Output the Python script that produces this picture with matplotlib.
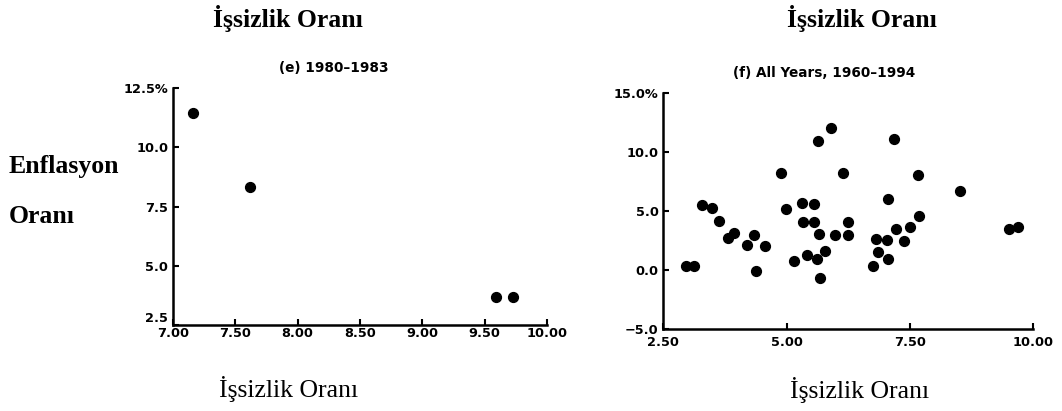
import matplotlib.pyplot as plt

# Panel (e): 1980-1983
issizlik_e = [7.16, 7.62, 9.59, 9.73]
enflasyon_e = [11.44, 8.34, 3.67, 3.67]

# Panel (f): all years 1960-1994
issizlik_f = [2.96, 3.13, 3.28, 3.49, 3.63, 3.82, 3.93, 4.19, 4.33, 4.38, 4.57,
              4.89, 4.98, 5.15, 5.31, 5.56, 5.33, 5.56, 5.42, 5.61, 5.77, 5.66,
              5.68, 5.64, 5.90, 5.98, 6.15, 6.24, 6.24, 7.17, 7.67, 7.05, 8.51,
              7.69, 7.51, 7.22, 7.39, 6.81, 7.03, 6.86, 7.05, 6.75, 9.51, 9.70]
enflasyon_f = [0.38, 0.38, 5.51, 5.23, 4.15, 2.69, 3.11, 2.13, 2.97, -0.05, 2.04,
               8.19, 5.17, 0.75, 5.65, 5.57, 4.07, 4.09, 1.28, 0.92, 1.62, 3.06,
               -0.69, 10.89, 11.99, 2.97, 8.21, 4.04, 2.97, 11.09, 8.07, 6.01, 6.66,
               4.55, 3.67, 3.50, 2.49, 2.61, 2.55, 1.51, 0.94, 0.35, 3.50, 3.62]

xt_e = [7.0, 7.5, 8.0, 8.5, 9.0, 9.5, 10.0]
xl_e = ['7.00', '7.50', '8.00', '8.50', '9.00', '9.50', '10.00']
yt_e = [2.5, 5.0, 7.5, 10.0, 12.5]
yl_e = ['2.5', '5.0', '7.5', '10.0', '12.5%']

xt_f = [2.5, 5.0, 7.5, 10.0]
xl_f = ['2.50', '5.00', '7.50', '10.00']
yt_f = [-5.0, 0.0, 5.0, 10.0, 15.0]
yl_f = ['\u22125.0', '0.0', '5.0', '10.0', '15.0%']

serif = 'Liberation Serif'
sans = 'DejaVu Sans'

fig = plt.figure(figsize=(10.62, 4.11), dpi=100)
ax1 = fig.add_axes([0.1629, 0.2092, 0.3522, 0.5759])
ax2 = fig.add_axes([0.6246, 0.1988, 0.3481, 0.5757])


def stil(ax, xt, xl, yt, yl, xpad):
    ax.set_xlim(xt[0], xt[-1])
    ax.set_ylim(yt[0], yt[-1])
    ax.set_xticks(xt)
    ax.set_xticklabels(xl)
    ax.set_yticks(yt)
    ax.set_yticklabels(yl)
    for s in ['top', 'right']:
        ax.spines[s].set_visible(False)
    for s in ['left', 'bottom']:
        ax.spines[s].set_linewidth(1.8)
    ax.tick_params(direction='in', length=4.5, width=1.5)
    ax.tick_params(axis='x', pad=xpad)
    ax.tick_params(axis='y', pad=3.5)
    for lbl in ax.get_xticklabels() + ax.get_yticklabels():
        lbl.set_fontfamily(sans)
        lbl.set_fontweight('bold')
        lbl.set_fontsize(9.3)


ax1.scatter(issizlik_e, enflasyon_e, s=50, color='black', clip_on=False)
stil(ax1, xt_e, xl_e, yt_e, yl_e, 1.2)
# en alttaki etiket köşede biraz yukarıda durur
ax1.get_yticklabels()[0].set_va('bottom')

ax2.scatter(issizlik_f, enflasyon_f, s=50, color='black', clip_on=False)
stil(ax2, xt_f, xl_f, yt_f, yl_f, 5.0)

fig.text(0.3141, 0.834, '(e) 1980\u20131983', family=sans, fontweight='bold',
         fontsize=9.8, ha='center', va='center')
fig.text(0.7759, 0.823, '(f) All Years, 1960\u20131994', family=sans,
         fontweight='bold', fontsize=9.8, ha='center', va='center')

# eksen başlıkları
fig.text(0.2712, 0.934, 'İşsizlik Oranı', family=serif, fontweight='bold',
         fontsize=18.5, ha='center', va='baseline')
fig.text(0.812, 0.934, 'İşsizlik Oranı', family=serif, fontweight='bold',
         fontsize=18.5, ha='center', va='baseline')
fig.text(0.2721, 0.034, 'İşsizlik Oranı', family=serif,
         fontsize=18.5, ha='center', va='baseline')
fig.text(0.8098, 0.0316, 'İşsizlik Oranı', family=serif,
         fontsize=18.5, ha='center', va='baseline')
fig.text(0.0085, 0.579, 'Enflasyon', family=serif, fontweight='bold',
         fontsize=18.5, ha='left', va='baseline')
fig.text(0.0085, 0.4574, 'Oranı', family=serif, fontweight='bold',
         fontsize=18.5, ha='left', va='baseline')

fig.savefig('out.png', dpi=100)
